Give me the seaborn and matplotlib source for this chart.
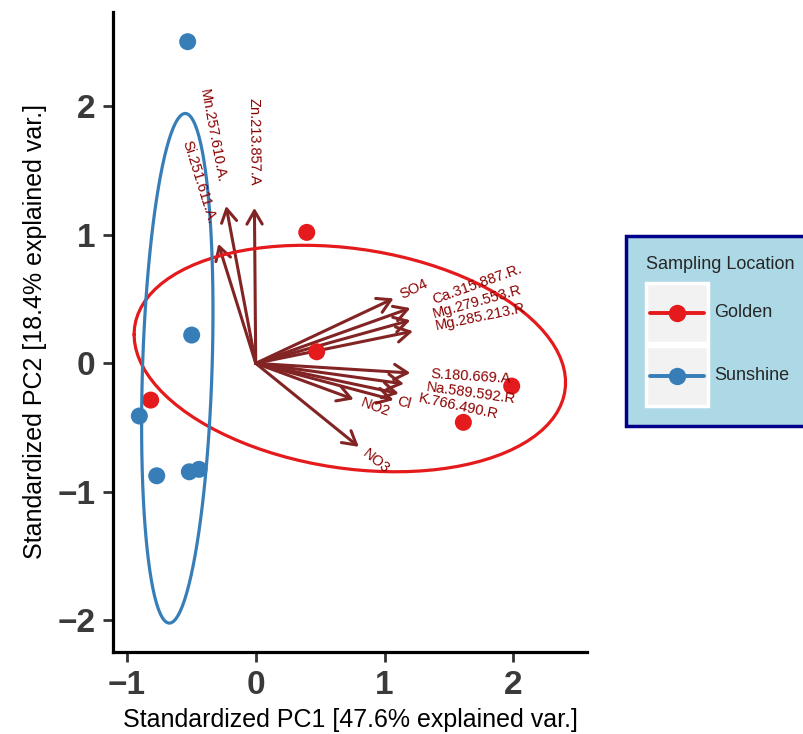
import numpy as np
import pandas as pd
import matplotlib
matplotlib.use("Agg")
import matplotlib.pyplot as plt
import seaborn as sns
from matplotlib.lines import Line2D
from matplotlib.patches import Rectangle
from matplotlib.legend_handler import HandlerBase

# -----------------------------------------------------------------------------
# Style
# -----------------------------------------------------------------------------
sns.set_theme(style="ticks")
plt.rcParams["font.family"] = ["Liberation Sans", "DejaVu Sans"]

# -----------------------------------------------------------------------------
# Data
# -----------------------------------------------------------------------------
golden_pc1 = [-0.815, 0.396, 0.473, 1.611, 1.986]
golden_pc2 = [-0.286, 1.019, 0.090, -0.459, -0.177]
sunshine_pc1 = [-0.528, -0.497, -0.903, -0.768, -0.515, -0.440]
sunshine_pc2 = [2.503, 0.220, -0.410, -0.875, -0.844, -0.825]

variables = ["Mn.257.610.A.", "Zn.213.857.A", "Si.251.611.A.", "SO4",
             "Ca.315.887.R.", "Mg.279.553.R", "Mg.285.213.R", "S.180.669.A",
             "Na.589.592.R", "K.766.490.R", "Cl", "NO2", "NO3"]
load_pc1 = [-0.23, -0.01, -0.29, 1.07, 1.20, 1.20, 1.22, 1.20, 1.15, 1.11, 1.07, 0.76, 0.80]
load_pc2 = [1.225, 1.21, 0.93, 0.505, 0.43, 0.335, 0.25, -0.075, -0.16, -0.235, -0.285, -0.28, -0.65]

groups = ["Golden", "Sunshine"]
colors = {"Golden": "#E41A1C", "Sunshine": "#377EB8"}

xticks = [-1, 0, 1, 2]
yticks = [-2, -1, 0, 1, 2]

scores = pd.DataFrame({
    "PC1": golden_pc1 + sunshine_pc1,
    "PC2": golden_pc2 + sunshine_pc2,
    "group": ["Golden"] * len(golden_pc1) + ["Sunshine"] * len(sunshine_pc1),
})

# 68% normal ellipses per group (as in ggbiplot)
theta = np.linspace(-np.pi, np.pi, 100)
circle = np.column_stack([np.cos(theta), np.sin(theta)])
ed = np.sqrt(-2 * np.log(1 - 0.68))
ell_frames = []
for g in groups:
    sub = scores[scores["group"] == g][["PC1", "PC2"]].to_numpy()
    sigma = np.cov(sub, rowvar=False)
    mu = sub.mean(axis=0)
    pts = ed * circle @ np.linalg.cholesky(sigma).T + mu
    ell_frames.append(pd.DataFrame({"PC1": pts[:, 0], "PC2": pts[:, 1], "group": g}))
ellipses = pd.concat(ell_frames, ignore_index=True)

# -----------------------------------------------------------------------------
# Plot
# -----------------------------------------------------------------------------
fig = plt.figure(figsize=(8.04, 7.34), dpi=100)
ax = fig.add_axes([113.3 / 804, 1 - 651.7 / 734, 473.4 / 804, 639.7 / 734])

arrow_col = "#832424"
for x, y in zip(load_pc1, load_pc2):
    ax.annotate("", xy=(x, y), xytext=(0, 0), zorder=1.5,
                arrowprops=dict(arrowstyle="->,head_length=0.95,head_width=0.55",
                                color=arrow_col, lw=2.2, shrinkA=0, shrinkB=0,
                                mutation_scale=10))

sns.scatterplot(data=scores, x="PC1", y="PC2", hue="group", palette=colors,
                s=150, edgecolor="none", legend=False, zorder=2, ax=ax)

for g in groups:
    sns.lineplot(data=ellipses[ellipses["group"] == g], x="PC1", y="PC2",
                 sort=False, estimator=None, color=colors[g], lw=2.3,
                 legend=False, zorder=2.5, ax=ax)

ax.set_xlim(-1.105, 2.568)
ax.set_ylim(-2.244, 2.734)

# variable names, placed like ggbiplot (hjust = (1 - 1.5*sign(x))/2)
renderer = fig.canvas.get_renderer()
for name, x, y in zip(variables, load_pc1, load_pc2):
    angle = np.degrees(np.arctan(y / x))
    tmp = ax.text(0, 0, name, fontsize=10.5)
    w = tmp.get_window_extent(renderer=renderer).width
    tmp.remove()
    d = np.array([np.cos(np.radians(angle)), np.sin(np.radians(angle))])
    off = 0.25 * w * d * np.sign(x)
    ax.annotate(name, xy=(x, y), xytext=(off[0], off[1]), textcoords="offset pixels",
                rotation=angle, rotation_mode="anchor",
                ha="left" if x > 0 else "right", va="center",
                fontsize=10.5, color="darkred", zorder=3)

ax.set_xticks(xticks)
ax.set_yticks(yticks)
ax.set_xticklabels([f"{t}".replace("-", "\u2212") for t in xticks], fontweight="bold")
ax.set_yticklabels([f"{t}".replace("-", "\u2212") for t in yticks], fontweight="bold")
ax.tick_params(length=7, width=2, color="#333333", labelsize=24,
               labelcolor="#3a3a3a", pad=6)

sns.despine(ax=ax)
for side in ["left", "bottom"]:
    ax.spines[side].set_linewidth(2.3)
    ax.spines[side].set_color("black")

ax.set_xlabel("Standardized PC1 [47.6% explained var.]", fontsize=18, color="black", labelpad=5)
ax.set_ylabel("Standardized PC2 [18.4% explained var.]", fontsize=18, color="black", labelpad=7)


# -----------------------------------------------------------------------------
# Legend: grey key boxes holding a line + point, like ggplot
# -----------------------------------------------------------------------------
class KeyHandler(HandlerBase):
    def create_artists(self, legend, orig_handle, xdescent, ydescent,
                       width, height, fontsize, trans):
        x0, y0 = -xdescent, -ydescent
        yc = y0 + height / 2
        box = Rectangle((x0, y0), width, height, facecolor="#F2F2F2",
                        edgecolor="white", linewidth=2.5)
        line = Line2D([x0 + 3, x0 + width - 3], [yc, yc],
                      color=orig_handle.get_color(), lw=2.8)
        dot = Line2D([x0 + width / 2], [yc], marker="o", markersize=12.5,
                     color=orig_handle.get_color(), markeredgecolor="none", lw=0)
        for a in (box, line, dot):
            a.set_transform(trans)
        return [box, line, dot]


handles = [Line2D([], [], color=colors[g]) for g in groups]
leg = fig.legend(handles, groups, title="Sampling Location", loc="upper left",
                 bbox_to_anchor=(626 / 804, 1 - 236 / 734), bbox_transform=fig.transFigure,
                 borderaxespad=0, fontsize=13, title_fontsize=13, alignment="left",
                 handlelength=3.45, handleheight=4.8, labelspacing=0.12,
                 handletextpad=0.35, borderpad=1.1, fancybox=False,
                 framealpha=1, facecolor="#ADD8E6", edgecolor="#00008B",
                 handler_map={Line2D: KeyHandler()})
leg.get_frame().set_linewidth(2.5)
leg._legend_box.sep = 7

fig.savefig("out.png", dpi=100)
